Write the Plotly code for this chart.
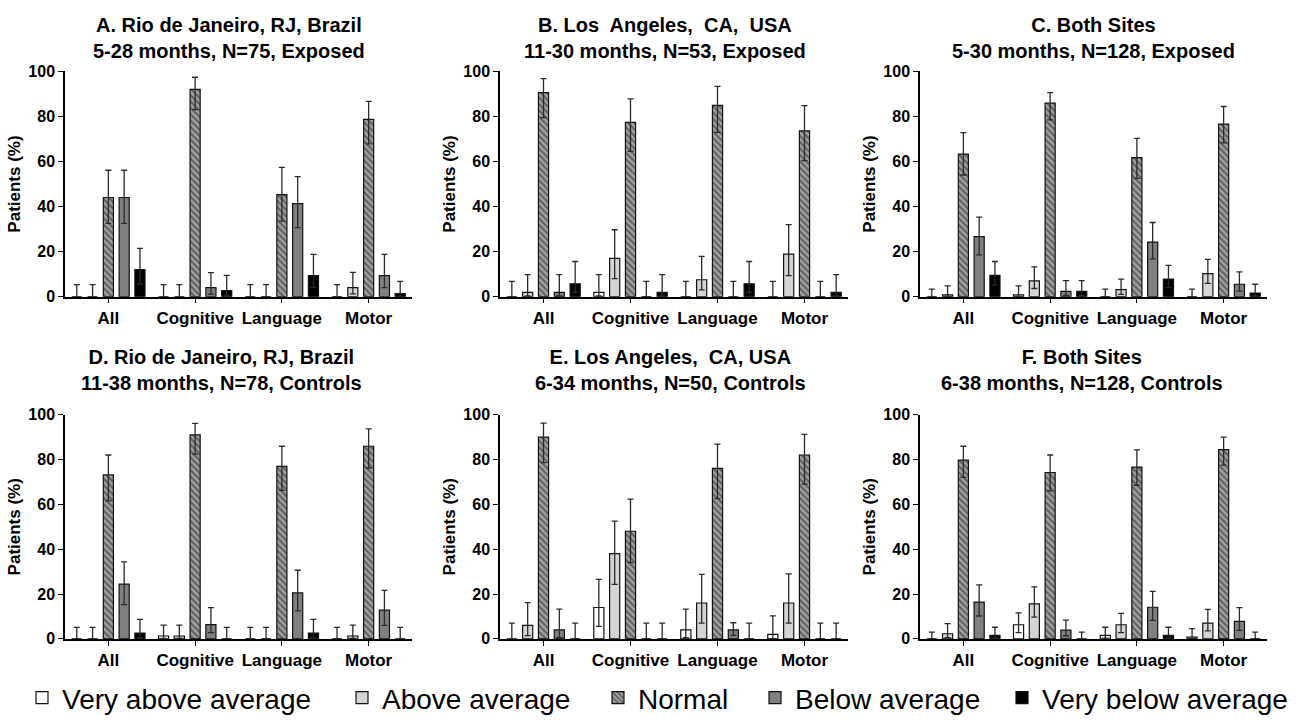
import plotly.graph_objects as go

categories = ["All", "Cognitive", "Language", "Motor"]
series_names = ["Very above average", "Above average", "Normal", "Below average", "Very below average"]
y_ticks = [0, 20, 40, 60, 80, 100]

titles = [
    "A. Rio de Janeiro, RJ, Brazil<br>5-28 months, N=75, Exposed",
    "B. Los  Angeles,  CA,  USA<br>11-30 months, N=53, Exposed",
    "C. Both Sites<br>5-30 months, N=128, Exposed",
    "D. Rio de Janeiro, RJ, Brazil<br>11-38 months, N=78, Controls",
    "E. Los Angeles,  CA, USA<br>6-34 months, N=50, Controls",
    "F. Both Sites<br>6-38 months, N=128, Controls",
]

# rows: Very above, Above, Normal, Below, Very below ; columns: All, Cognitive, Language, Motor
A_val = [[0, 0, 0, 0], [0, 0, 0, 4.0], [44.0, 92.0, 45.3, 78.7], [44.0, 4.0, 41.3, 9.3], [12.0, 2.7, 9.3, 1.3]]
A_hi = [[5.3, 5.3, 5.3, 5.3], [5.3, 5.3, 5.3, 10.8], [56.1, 97.4, 57.4, 86.7], [56.1, 10.7, 53.3, 18.8], [21.4, 9.4, 18.8, 6.8]]
A_lo = [[0, 0, 0, 0], [0, 0, 0, 1.2], [32.5, 83.0, 33.5, 67.8], [32.5, 1.1, 30.6, 4.0], [5.6, 0.5, 4.1, 0.1]]

B_val = [[0, 1.9, 0, 0], [1.9, 17.0, 7.5, 18.9], [90.6, 77.4, 84.9, 73.6], [1.9, 0, 0, 0], [5.7, 1.9, 5.7, 1.9]]
B_hi = [[6.8, 9.8, 6.8, 6.8], [9.8, 29.7, 17.9, 32.0], [96.8, 87.8, 93.3, 84.8], [9.8, 6.8, 6.8, 6.8], [15.6, 9.8, 15.6, 9.8]]
B_lo = [[0, 0.3, 0, 0], [0.3, 8.0, 3.0, 9.3], [79.5, 64.5, 72.9, 60.4], [0.3, 0, 0, 0], [1.9, 0.3, 1.9, 0.3]]

C_val = [[0, 0.8, 0, 0], [0.8, 7.0, 3.1, 10.2], [63.3, 85.9, 61.7, 76.6], [26.6, 2.3, 24.2, 5.5], [9.4, 2.3, 7.8, 1.6]]
C_hi = [[3.3, 4.8, 3.3, 3.3], [4.8, 13.2, 7.8, 16.5], [72.8, 90.6, 70.3, 84.4], [35.3, 7.1, 32.9, 11.0], [15.6, 7.1, 13.9, 5.5]]
C_lo = [[0, 0.1, 0, 0], [0.1, 3.6, 1.0, 5.9], [54.0, 78.5, 52.5, 68.3], [18.5, 0.6, 16.8, 2.4], [5.1, 0.6, 4.0, 0.3]]

D_val = [[0, 1.3, 0, 0], [0, 1.3, 0, 1.3], [73.1, 91.0, 76.9, 85.9], [24.4, 6.4, 20.5, 12.8], [2.6, 0, 2.6, 0]]
D_hi = [[5.1, 6.1, 5.1, 5.1], [5.1, 6.1, 5.1, 6.1], [82.0, 96.1, 85.9, 93.6], [34.3, 13.9, 30.6, 21.6], [8.7, 5.1, 8.7, 5.1]]
D_lo = [[0, 0.2, 0, 0], [0, 0.2, 0, 0.2], [61.5, 82.4, 66.2, 76.2], [15.3, 2.8, 12.5, 6.0], [0.5, 0, 0.5, 0]]

E_val = [[0, 14.0, 4.0, 2.0], [6.0, 38.0, 16.0, 16.0], [90.0, 48.0, 76.0, 82.0], [4.0, 0, 4.0, 0], [0, 0, 0, 0]]
E_hi = [[7.0, 26.5, 13.3, 10.3], [16.2, 52.5, 28.8, 29.0], [96.2, 62.3, 86.8, 91.2], [13.3, 7.0, 7.2, 7.0], [7.0, 7.0, 7.0, 7.0]]
E_lo = [[0, 5.6, 0.5, 0.1], [1.5, 24.3, 7.0, 7.0], [78.6, 34.0, 62.5, 69.0], [0.5, 0, 1.6, 0], [0, 0, 0, 0]]

F_val = [[0, 6.3, 1.6, 0.8], [2.3, 15.6, 6.3, 7.0], [79.7, 74.2, 76.6, 84.4], [16.4, 3.9, 14.1, 7.8], [1.6, 0, 1.6, 0]]
F_hi = [[3.0, 11.6, 5.2, 4.6], [6.8, 23.2, 11.4, 13.2], [85.9, 82.0, 84.3, 90.0], [24.1, 8.4, 21.2, 13.9], [5.2, 3.0, 5.2, 3.0]]
F_lo = [[0, 2.8, 0.3, 0.1], [0.6, 9.7, 2.8, 3.6], [72.0, 66.0, 68.5, 77.5], [10.2, 1.4, 8.3, 3.8], [0.3, 0, 0.3, 0]]

panels = [(A_val, A_hi, A_lo), (B_val, B_hi, B_lo), (C_val, C_hi, C_lo),
          (D_val, D_hi, D_lo), (E_val, E_hi, E_lo), (F_val, F_hi, F_lo)]

W, H = 1311, 723
FONT = "Arial, Liberation Sans, sans-serif"

fills = ["#ffffff", "#d4d4d4", "#a4a4a4", "#808080", "#000000"]
patterns = ["", "", "\\", "", ""]

col_px = [(65, 412), (500, 848), (920, 1267)]
row_px = [(65, 296), (417, 647)]
title_x = [229, 665, 1093, 221, 670, 1082]
title_y = [31, 371]
legend_text_x = [67, 387, 643, 800, 1047]
legend_keys = ["legend", "legend2", "legend3", "legend4", "legend5"]

fig = go.Figure()
layout = dict(
    width=W, height=H, margin=dict(l=0, r=0, t=0, b=0),
    paper_bgcolor="white", plot_bgcolor="white",
    barmode="group", bargap=0.09, bargroupgap=0.36,
    font=dict(family=FONT, color="black"),
    showlegend=True,
    annotations=[],
)
for k, tx in zip(legend_keys, legend_text_x):
    layout[k] = dict(orientation="h", x=(tx - 45) / W, xanchor="left", y=1 - 708 / H, yanchor="middle",
                     font=dict(size=28, family=FONT, color="black"), itemclick=False,
                     bgcolor="rgba(0,0,0,0)")

for p, (vals, his, los) in enumerate(panels):
    r, c = divmod(p, 3)
    idx = p + 1
    xa = "x" if idx == 1 else f"x{idx}"
    ya = "y" if idx == 1 else f"y{idx}"
    for s in range(5):
        v = vals[s]
        up = [h - x for h, x in zip(his[s], v)]
        dn = [x - l for x, l in zip(v, los[s])]
        fig.add_trace(go.Bar(
            x=categories, y=v, name=series_names[s], xaxis=xa, yaxis=ya,
            showlegend=(p == 0), legendgroup=series_names[s], legend=legend_keys[s],
            marker=dict(color=fills[s], line=dict(color="#111111", width=1.2),
                        pattern=dict(shape=patterns[s], fgcolor="#1e1e1e", bgcolor=fills[s],
                                     size=4.5, solidity=0.5) if patterns[s] else None),
            error_y=dict(type="data", array=up, arrayminus=dn, symmetric=False,
                         color="#2a2a2a", thickness=1.3, width=3),
            cliponaxis=False,
        ))
    x0, x1 = col_px[c]
    y0, y1 = row_px[r]
    xkey = "xaxis" if idx == 1 else f"xaxis{idx}"
    ykey = "yaxis" if idx == 1 else f"yaxis{idx}"
    layout[xkey] = dict(domain=[x0 / W, x1 / W], anchor=ya, type="category",
                        categoryorder="array", categoryarray=categories,
                        range=[-0.5, 3.5], showline=True, linecolor="black", linewidth=1.5,
                        ticks="outside", ticklen=5, tickwidth=1.3, tickcolor="black",
                        tickfont=dict(size=17, family=FONT, color="black", weight="bold"),
                        showgrid=False, zeroline=False, fixedrange=True)
    layout[ykey] = dict(domain=[1 - y1 / H, 1 - y0 / H], anchor=xa,
                        range=[0, 100], tickvals=y_ticks, showline=True, linecolor="black",
                        linewidth=1.5, ticks="outside", ticklen=5, tickwidth=1.3, tickcolor="black",
                        tickfont=dict(size=16, family=FONT, color="black", weight="bold"),
                        title=dict(text="Patients (%)", standoff=3,
                                   font=dict(size=17, family=FONT, color="black", weight="bold")),
                        showgrid=False, zeroline=False, fixedrange=True)
    layout["annotations"].append(dict(
        text=f"<b>{titles[p]}</b>", x=title_x[p] / W, y=1 - title_y[r] / H,
        xref="paper", yref="paper", xanchor="center", yanchor="middle",
        showarrow=False, font=dict(size=20, family=FONT, color="black")))

fig.update_layout(**layout)
fig.write_html("out.html", config={"displayModeBar": False},
               post_script="document.body.style.margin='0';document.body.style.overflow='hidden';")
